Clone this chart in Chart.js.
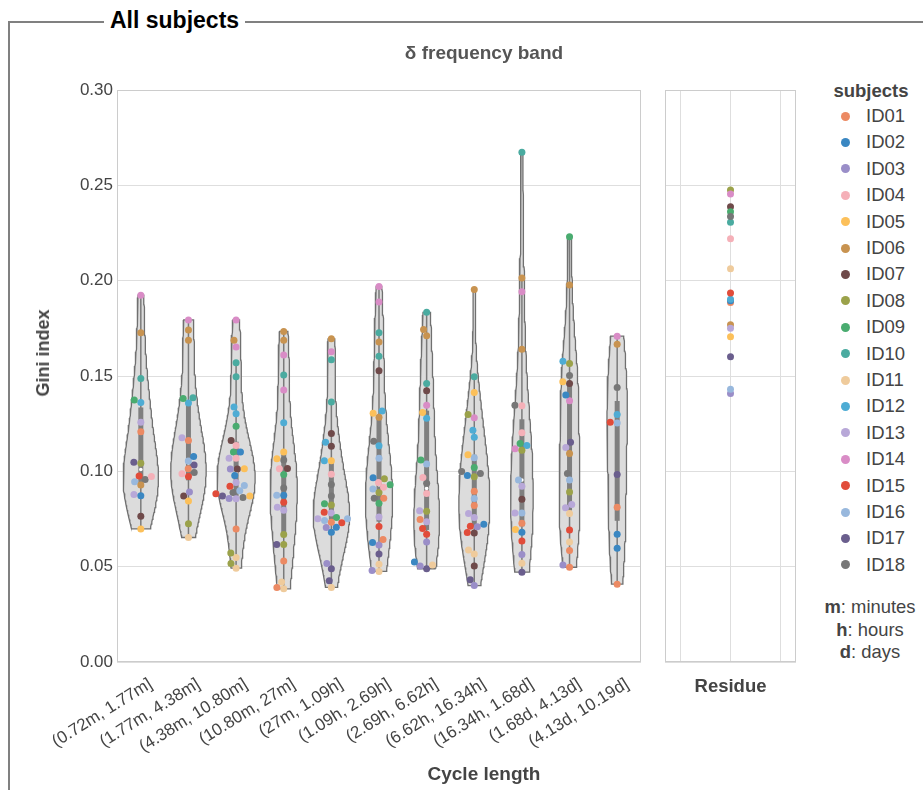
<!DOCTYPE html>
<html><head><meta charset="utf-8">
<script src="https://cdn.jsdelivr.net/npm/chart.js@4.4.1/dist/chart.umd.min.js"></script>
<style>
html,body{margin:0;padding:0;background:#fff;}
body{width:923px;height:790px;overflow:hidden;position:relative;font-family:"Liberation Sans",Arial,Helvetica,sans-serif;}
#frame{position:absolute;left:8px;top:21px;width:940px;height:800px;border-top:2px solid #808080;border-left:2px solid #808080;}
#frameTitle{position:absolute;left:104px;top:6px;padding:0 6px;background:#fff;font-weight:bold;font-size:23px;line-height:28px;color:#000;}
#mainCanvas{position:absolute;left:0;top:0;}
#resCanvas{position:absolute;left:650px;top:0;}
.t{position:absolute;transform:translate(-50%,-50%);white-space:nowrap;line-height:1;}
.legItem{position:absolute;white-space:nowrap;font-size:18.5px;color:#444;line-height:1;}
.dot{position:absolute;width:9px;height:9px;border-radius:50%;}
</style>
</head><body>
<div id="frame"></div>
<div id="frameTitle">All subjects</div>
<canvas id="mainCanvas" width="650" height="790"></canvas>
<canvas id="resCanvas" width="150" height="790"></canvas>
<div class="t" style="left:484px;top:52px;font-weight:bold;font-size:19px;color:#555;">δ frequency band</div>
<div class="t" style="left:43px;top:353px;font-weight:bold;font-size:18px;color:#444;transform:translate(-50%,-50%) rotate(-90deg);">Gini index</div>
<div class="t" style="left:484px;top:773px;font-weight:bold;font-size:19px;color:#444;">Cycle length</div>
<div id="legend"></div>
<script>
// ---------- data ----------
const categories = ["(0.72m, 1.77m]", "(1.77m, 4.38m]", "(4.38m, 10.80m]", "(10.80m, 27m]", "(27m, 1.09h]",
  "(1.09h, 2.69h]", "(2.69h, 6.62h]", "(6.62h, 16.34h]", "(16.34h, 1.68d]", "(1.68d, 4.13d]", "(4.13d, 10.19d]"];
const subjects = ["ID01","ID02","ID03","ID04","ID05","ID06","ID07","ID08","ID09","ID10","ID11","ID12","ID13","ID14","ID15","ID16","ID17","ID18"];
const subjectColors = ["#ec8a63","#3a87c2","#9a8ec8","#f5b0b8","#fcc05a","#c89350","#6f4a4a","#9ba24a","#4aac70",
  "#4aaba0","#efcb9c","#4eacd4","#b8a8d8","#d98cc6","#e14c3a","#98b8dd","#6a5e8d","#777777"];
const unitNotes = [["m","minutes"],["h","hours"],["d","days"]];

// [subject number, Gini index] per cycle-length bin
const bin01 = [[14,0.1924],[6,0.1727],[10,0.1487],[9,0.1374],[12,0.1361],[13,0.1257],[1,0.1207],[17,0.1047],[8,0.1043],
  [4,0.0973],[15,0.0976],[18,0.0957],[16,0.0945],[6,0.0928],[13,0.0879],[2,0.0872],[7,0.0765],[5,0.0698]];
const bin02 = [[14,0.1794],[6,0.1741],[6,0.1687],[9,0.1382],[10,0.1386],[12,0.1358],[13,0.1176],[1,0.1162],[2,0.1078],
  [16,0.1054],[17,0.1033],[1,0.1013],[4,0.0987],[18,0.0994],[15,0.0973],[3,0.0892],[7,0.0871],[5,0.0844],[8,0.0725],[11,0.0653]];
const bin03 = [[14,0.1794],[6,0.1687],[14,0.1652],[10,0.1570],[10,0.1496],[12,0.1337],[12,0.1302],[9,0.1237],[7,0.1162],
  [4,0.1136],[9,0.1102],[2,0.1102],[13,0.1069],[4,0.1068],[7,0.1012],[3,0.1012],[5,0.1013],[2,0.0978],[13,0.0942],
  [16,0.0926],[15,0.0922],[16,0.0898],[18,0.0889],[15,0.0882],[17,0.0870],[5,0.0870],[3,0.0858],[13,0.0856],[18,0.0863],
  [1,0.0698],[8,0.0572],[11,0.0548],[8,0.0517],[11,0.0492]];
const bin04 = [[6,0.1734],[6,0.1687],[14,0.1610],[10,0.1505],[14,0.1426],[12,0.1255],[5,0.1101],[5,0.1066],[18,0.1059],
  [4,0.1013],[7,0.1015],[9,0.0984],[18,0.0912],[2,0.0875],[16,0.0875],[15,0.0838],[13,0.0811],[13,0.0796],[8,0.0669],
  [8,0.0616],[17,0.0616],[1,0.0530],[11,0.0419],[1,0.0391],[11,0.0384]];
const bin05 = [[6,0.1695],[14,0.1627],[10,0.1585],[10,0.1363],[7,0.1199],[12,0.1152],[7,0.1131],[5,0.1055],[12,0.1055],
  [4,0.0985],[18,0.0931],[18,0.0870],[9,0.0830],[8,0.0823],[15,0.0786],[13,0.0782],[9,0.0758],[13,0.0751],[16,0.0742],
  [16,0.0751],[15,0.0730],[1,0.0733],[3,0.0706],[2,0.0707],[2,0.0681],[3,0.0517],[17,0.0489],[17,0.0426],[11,0.0391]];
const bin06 = [[14,0.1970],[14,0.1888],[10,0.1727],[6,0.1678],[10,0.1603],[7,0.1527],[5,0.1304],[12,0.1317],[6,0.1284],
  [18,0.1158],[12,0.1134],[16,0.1069],[8,0.0961],[2,0.0966],[4,0.0942],[9,0.0929],[16,0.0907],[4,0.0917],[8,0.0889],
  [18,0.0859],[1,0.0859],[9,0.0832],[13,0.0761],[15,0.0711],[1,0.0643],[2,0.0627],[3,0.0613],[17,0.0566],[11,0.0513],
  [3,0.0480],[11,0.0475]];
const bin07 = [[10,0.1834],[6,0.1744],[6,0.1711],[10,0.1461],[7,0.1422],[14,0.1346],[5,0.1309],[12,0.1279],[9,0.1059],
  [16,0.1038],[4,0.0968],[18,0.0937],[4,0.0884],[13,0.0793],[8,0.0790],[1,0.0748],[13,0.0735],[15,0.0700],[15,0.0670],
  [3,0.0630],[2,0.0524],[3,0.0503],[11,0.0509],[17,0.0489]];
const bin08 = [[6,0.1954],[10,0.1496],[5,0.1414],[8,0.1298],[14,0.1281],[12,0.1215],[12,0.1179],[5,0.1087],[16,0.1071],
  [9,0.1020],[18,0.0999],[2,0.0978],[8,0.0971],[18,0.0989],[1,0.0896],[16,0.0858],[1,0.0821],[13,0.0779],[13,0.0758],
  [15,0.0712],[3,0.0709],[2,0.0723],[7,0.0676],[15,0.0679],[11,0.0587],[11,0.0566],[7,0.0504],[17,0.0431],[3,0.0401]];
const bin09 = [[10,0.2673],[6,0.2014],[14,0.1942],[6,0.1640],[18,0.1347],[4,0.1344],[4,0.1202],[9,0.1146],[12,0.1136],
  [14,0.1118],[8,0.1110],[16,0.0954],[13,0.0922],[7,0.0854],[16,0.0782],[13,0.0782],[1,0.0728],[5,0.0695],[2,0.0681],
  [15,0.0635],[3,0.0564],[11,0.0518],[17,0.0471]];
const bin10 = [[9,0.2230],[6,0.1977],[12,0.1578],[8,0.1566],[18,0.1503],[5,0.1470],[7,0.1461],[2,0.1401],[14,0.1370],
  [17,0.1152],[13,0.1125],[6,0.1094],[18,0.0989],[16,0.0954],[8,0.0891],[13,0.0809],[13,0.0826],[11,0.0779],[15,0.0692],
  [11,0.0630],[1,0.0585],[3,0.0509],[1,0.0497]];
const bin11 = [[14,0.1709],[6,0.1666],[18,0.1440],[12,0.1298],[15,0.1257],[16,0.1253],[17,0.0984],[1,0.0811],[2,0.0670],
  [2,0.0597],[1,0.0408]];
// residue Gini index per subject (ID01..ID18)
const residue = [0.1886,0.1895,0.1408,0.2220,0.1706,0.1769,0.2388,0.2475,0.2362,0.2307,0.2062,0.1903,0.1751,0.2454,
  0.1935,0.1431,0.1601,0.2337];

const bins = [bin01,bin02,bin03,bin04,bin05,bin06,bin07,bin08,bin09,bin10,bin11];

// ---------- derived statistics (violin KDE, quartiles) ----------
function quantile(sorted, q){ const p=(sorted.length-1)*q, lo=Math.floor(p), hi=Math.ceil(p); return sorted[lo]+(sorted[hi]-sorted[lo])*(p-lo); }
function kdeGrid(vals){
  const n=vals.length, mean=vals.reduce((a,b)=>a+b,0)/n;
  const sd=Math.sqrt(vals.reduce((a,b)=>a+(b-mean)*(b-mean),0)/(n-1));
  const bw=sd*Math.pow(n,-1/5);
  const mn=Math.min(...vals), mx=Math.max(...vals), G=100, out=[];
  for(let k=0;k<G;k++){
    const y=mn+(mx-mn)*k/(G-1); let s=0;
    for(const v of vals){ const z=(y-v)/bw; s+=Math.exp(-0.5*z*z); }
    out.push({y, d:s/(n*bw*Math.sqrt(2*Math.PI))});
  }
  return out;
}
const kdes = bins.map(b=>kdeGrid(b.map(p=>p[1])));
const maxDens = Math.max(...kdes.map(k=>Math.max(...k.map(p=>p.d))));
const halfWidth = 0.4;

const violinSets = kdes.map((k,i)=>{
  const pts=[];
  for(let j=0;j<k.length;j++) pts.push({x:i+k[j].d/maxDens*halfWidth, y:k[j].y});
  for(let j=k.length-1;j>=0;j--) pts.push({x:i-k[j].d/maxDens*halfWidth, y:k[j].y});
  pts.push({...pts[0]});
  return {data:pts, showLine:true, fill:'shape', backgroundColor:'#dcdcdc', borderColor:'#707070', borderWidth:1.3,
    pointRadius:0, order:5};
});
const whiskerSets=[], boxSets=[], medianPts=[];
bins.forEach((b,i)=>{
  const s=b.map(p=>p[1]).sort((a,c)=>a-c);
  const q1=quantile(s,0.25), q3=quantile(s,0.75), med=quantile(s,0.5), iqr=q3-q1;
  const h1=Math.min(...s.filter(v=>v>=q1-1.5*iqr)), h2=Math.max(...s.filter(v=>v<=q3+1.5*iqr));
  whiskerSets.push({data:[{x:i,y:h1},{x:i,y:h2}], showLine:true, borderColor:'#7a7a7a', borderWidth:1.5, pointRadius:0, order:4});
  boxSets.push({data:[{x:i,y:q1},{x:i,y:q3}], showLine:true, borderColor:'#7f7f7f', borderWidth:5, borderCapStyle:'butt', pointRadius:0, order:3});
  medianPts.push({x:i,y:med});
});

// subject point datasets
const pointRefs=[];
const subjectSets = subjects.map((name,si)=>({label:name, data:[], backgroundColor:subjectColors[si], borderWidth:0,
  pointRadius:3.5, pointHoverRadius:3.5, showLine:false, order:1}));
bins.forEach((b,i)=>b.forEach(([s,v],j)=>{
  const pt={x:i,y:v}; subjectSets[s-1].data.push(pt); pointRefs.push({bin:i, idx:j, pt});
}));

const areaBorder = {id:'areaBorder', afterDraw(c){
  const a=c.chartArea, ctx=c.ctx; ctx.save(); ctx.strokeStyle='#cccccc'; ctx.lineWidth=1;
  ctx.strokeRect(Math.round(a.left)+0.5, Math.round(a.top)+0.5, Math.round(a.right-a.left)-1, Math.round(a.bottom-a.top)-1); ctx.restore();
}};

Chart.defaults.font.family='"Liberation Sans", Arial, Helvetica, sans-serif';
Chart.defaults.color='#444';

const mainChart = new Chart(document.getElementById('mainCanvas'), {
  type:'scatter',
  data:{datasets:[...subjectSets,
    {data:medianPts, backgroundColor:'#ffffff', borderWidth:0, pointRadius:1.8, order:2},
    ...boxSets, ...whiskerSets, ...violinSets]},
  options:{
    responsive:false, animation:false, events:[],
    layout:{padding:{top:90,left:0,right:9,bottom:0}},
    plugins:{legend:{display:false}, tooltip:{enabled:false}},
    scales:{
      x:{type:'linear', min:-0.5, max:10.5,
        afterBuildTicks:s=>{ s.ticks=categories.map((c,i)=>({value:i})); },
        afterFit:s=>{ s.height=128; },
        grid:{display:false, drawTicks:false}, border:{display:false},
        ticks:{autoSkip:false, minRotation:32, maxRotation:32, padding:12, labelOffset:10, font:{size:17}, color:'#444',
          callback:v=>categories[v] ?? ''}},
      y:{min:0, max:0.3, afterFit:s=>{ s.width=117; },
        grid:{color:'#dedede', drawTicks:false}, border:{display:false},
        ticks:{stepSize:0.05, padding:4, font:{size:17}, color:'#444', callback:v=>v.toFixed(2)}}
    }
  },
  plugins:[areaBorder]
});

// swarm layout of the points (avoid overlap) using the chart's own scales
function swarmOffsets(py, d){
  const order=py.map((_,i)=>i).sort((a,b)=>py[b]-py[a]);
  const placed=[], out=new Array(py.length).fill(0);
  for(const i of order){
    const y=py[i]; const nb=placed.filter(p=>Math.abs(p.y-y)<d);
    const cands=[0];
    for(const n of nb){ const dx=Math.sqrt(d*d-(n.y-y)*(n.y-y)); cands.push(n.x-dx); }
    for(const n of nb){ const dx=Math.sqrt(d*d-(n.y-y)*(n.y-y)); cands.push(n.x+dx); }
    const sorted=cands.map((c,k)=>[c,k]).sort((a,b)=>Math.abs(a[0])-Math.abs(b[0])||a[1]-b[1]).map(a=>a[0]);
    let x=0;
    for(const c of sorted){ if(nb.every(n=>(n.x-c)*(n.x-c)+(n.y-y)*(n.y-y)>=d*d-0.01)){ x=c; break; } }
    placed.push({x,y}); out[i]=x;
  }
  return out;
}
(function(){
  const ys=mainChart.scales.y, xs=mainChart.scales.x;
  const pxPerX=xs.getPixelForValue(1)-xs.getPixelForValue(0);
  bins.forEach((b,i)=>{
    const refs=pointRefs.filter(r=>r.bin===i);
    const offs=swarmOffsets(refs.map(r=>ys.getPixelForValue(r.pt.y)), 7);
    refs.forEach((r,k)=>{ r.pt.x=i+offs[k]/pxPerX; });
  });
  mainChart.update('none');
})();

const resChart = new Chart(document.getElementById('resCanvas'), {
  type:'scatter',
  data:{datasets:[{data:residue.map(v=>({x:0,y:v})), backgroundColor:subjectColors, borderWidth:0, pointRadius:3.5}]},
  options:{
    responsive:false, animation:false, events:[],
    layout:{padding:{top:90,left:0,right:4,bottom:92}},
    plugins:{legend:{display:false}, tooltip:{enabled:false}},
    scales:{
      x:{type:'linear', min:-1.3, max:1.3,
        afterBuildTicks:s=>{ s.ticks=[{value:-1},{value:0},{value:1}]; },
        afterFit:s=>{ s.height=36; },
        ticks:{display:false}, grid:{color:'#dedede', drawTicks:false}, border:{display:false},
        title:{display:true, text:'Residue', font:{size:18.5, weight:'bold'}, color:'#444', padding:{top:0,bottom:0}}},
      y:{min:0, max:0.3, afterFit:s=>{ s.width=15; },
        ticks:{display:false, stepSize:0.05}, grid:{color:'#dedede', drawTicks:false}, border:{display:false}}
    }
  },
  plugins:[areaBorder]
});

// legend (HTML)
(function(){
  const L=document.getElementById('legend');
  let h='<div class="t" style="left:871px;top:91px;font-weight:bold;font-size:18.5px;color:#444;">subjects</div>';
  subjects.forEach((s,k)=>{
    const y=116+k*26.4;
    h+='<div class="dot" style="left:'+(845-4.5)+'px;top:'+(y-4.5)+'px;background:'+subjectColors[k]+';"></div>';
    h+='<div class="legItem" style="left:866px;top:'+(y-9)+'px;">'+s+'</div>';
  });
  unitNotes.forEach((u,k)=>{
    h+='<div class="t" style="left:870px;top:'+(607+k*22.5)+'px;font-size:18.4px;color:#444;"><b>'+u[0]+'</b>: '+u[1]+'</div>';
  });
  L.innerHTML=h;
})();
</script>
</body></html>
